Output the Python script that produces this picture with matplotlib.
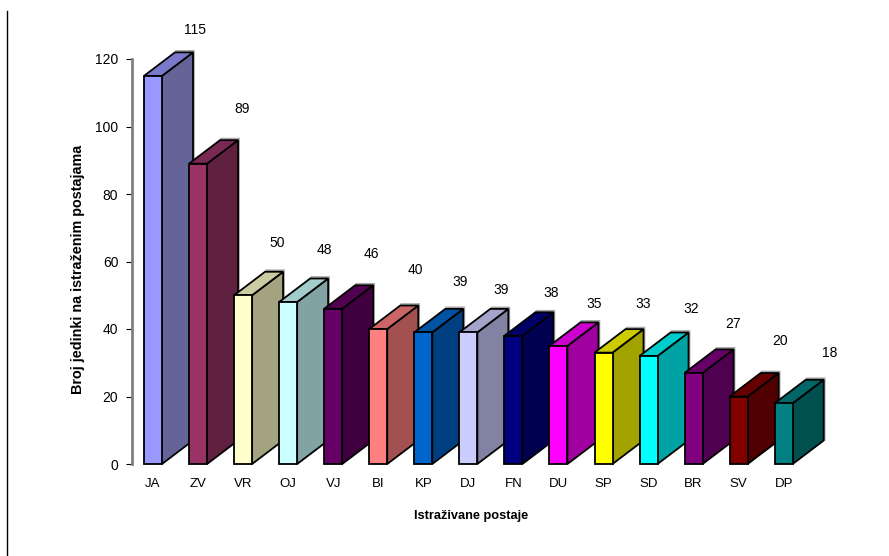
import matplotlib
matplotlib.use("Agg")
import matplotlib.pyplot as plt
from matplotlib.patches import Polygon
from matplotlib.lines import Line2D

plt.rcParams['font.family'] = ['Liberation Sans', 'DejaVu Sans']

stations = ["JA","ZV","VR","OJ","VJ","BI","KP","DJ","FN","DU","SP","SD","BR","SV","DP"]
counts = [115,89,50,48,46,40,39,39,38,35,33,32,27,20,18]
front_colors = ["#9999FF","#993366","#FFFFCC","#CCFFFF","#660066","#FF8080","#0066CC","#CCCCFF",
                "#000080","#FF00FF","#FFFF00","#00FFFF","#800080","#800000","#008080"]
side_colors = ["#646499","#602040","#A3A380","#82A3A3","#400040","#A35050","#004080","#8282A3",
               "#000050","#A000A0","#A3A300","#00A3A3","#500050","#500000","#005050"]
top_colors = ["#7A7ACC","#7A2952","#CCCCA3","#A3CCCC","#520052","#CC6666","#0052A3","#A3A3CC",
              "#000066","#CC00CC","#CCCC00","#00CCCC","#660066","#660000","#006666"]
label_shift_px = [42,44,34,36,38,37,37,33,38,36,39.5,42.5,39,41,46]
label_rise_px = [46,55,52,52,55,59,50,42,43,42,49,47,49,55.5,50]

W, H = 889, 556
fig = plt.figure(figsize=(W/100, H/100), dpi=100, facecolor="white")
ax_l, ax_r, y0, y120 = 131, 830, 464, 59
ax = fig.add_axes([ax_l/W, 1-y0/H, (ax_r-ax_l)/W, (y0-y120)/H])
PX_X = 45.05
PX_Y = (y0-y120)/120
ax.set_xlim((ax_l-153)/PX_X, (ax_r-153)/PX_X)
ax.set_ylim(0, 120)
ax.patch.set_alpha(0)
for s in ["top","right","bottom"]:
    ax.spines[s].set_visible(False)
ax.spines["left"].set_color("#808080")
ax.spines["left"].set_linewidth(2)
ax.spines["left"].set_position(("outward", -0.7))
ax.set_yticks(range(0, 121, 20))
ax.tick_params(axis="y", length=4.3, width=0.8, color="black", labelsize=10, pad=5.5)
ax.set_xticks(range(len(stations)))
ax.set_xticklabels(stations, fontsize=9.5)
ax.tick_params(axis="x", length=0, pad=10)

half = 9/PX_X
dx = 31/PX_X
dy = 23.5/PX_Y
sx = 1/PX_X
sy = 1.5/PX_Y
lw = 1.3
for i, v in enumerate(counts):
    l, r = i-half, i+half
    ax.add_patch(Polygon([(l+dx+sx,v+dy+sy),(r+dx+sx,v+dy+sy),(r+dx+sx,dy)], closed=True, fc="none", ec="#A8A8A8", lw=1.2, clip_on=False, zorder=2.5+i))
    ax.add_patch(Polygon([(r,0),(r+dx,dy),(r+dx,v+dy),(r,v)], closed=True, fc=side_colors[i], ec="black", lw=lw, clip_on=False, zorder=3+i))
    ax.add_patch(Polygon([(l,v),(r,v),(r+dx,v+dy),(l+dx,v+dy)], closed=True, fc=top_colors[i], ec="black", lw=lw, clip_on=False, zorder=3+i))
    ax.add_patch(Polygon([(l,0),(r,0),(r,v),(l,v)], closed=True, fc=front_colors[i], ec="black", lw=lw, clip_on=False, zorder=3+i))
    ax.annotate(str(v), (i, v), xytext=(label_shift_px[i]*0.72, label_rise_px[i]*0.72), textcoords="offset points",
                ha="center", va="center", fontsize=10, annotation_clip=False, zorder=30)

fig.text(78/W, 1-269/H, "Broj jedinki na istraženim postajama", rotation=90, ha="center", va="center", fontsize=10.4, fontweight="bold")
fig.text(471/W, 1-516/H, "Istraživane postaje", ha="center", va="center", fontsize=9.2, fontweight="bold")
fig.add_artist(Line2D([7/W,7/W],[0,1-11/H], color="black", lw=1.0))
fig.savefig("out.png", dpi=100)
